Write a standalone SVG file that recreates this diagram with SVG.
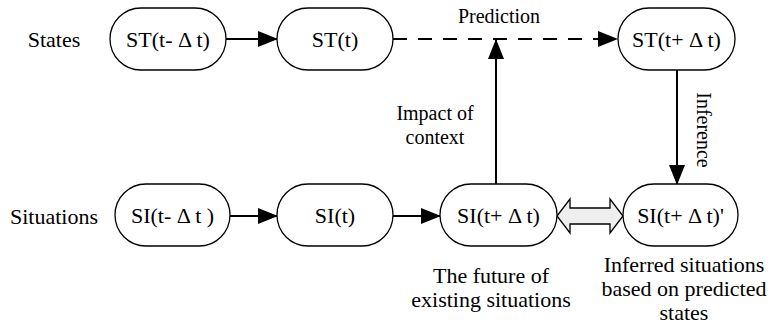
<svg xmlns="http://www.w3.org/2000/svg" width="771" height="327" viewBox="0 0 771 327" font-family="Liberation Serif, DejaVu Serif, serif">
  <style>
    .lbl { font-size: 22px; }
    .sm { font-size: 20px; }
    .node rect { fill: #fff; stroke: #000; stroke-width: 1.3; }
    .node text { font-size: 22px; text-anchor: middle; }
    .edge { fill: none; stroke: #000; stroke-width: 2; }
    .dash { stroke-dasharray: 14 11; }
  </style>
  <defs>
    <marker id="arrow" markerUnits="userSpaceOnUse" markerWidth="20" markerHeight="16" refX="19" refY="8" orient="auto">
      <path d="M0,0 L20,8 L0,16 z" fill="#000"/>
    </marker>
  </defs>

  <!-- row titles -->
  <text class="lbl" x="54" y="47" text-anchor="middle" font-family="Liberation Serif">States</text>
  <text class="lbl" x="54" y="224" text-anchor="middle" font-family="Liberation Serif">Situations</text>

  <!-- connectors -->
  <g id="connectors">
    <line class="edge" x1="226" y1="39" x2="277" y2="39" marker-end="url(#arrow)"/>
    <line class="edge dash" x1="393" y1="39" x2="617" y2="39" marker-end="url(#arrow)"/>
    <line class="edge" x1="230" y1="216" x2="277" y2="216" marker-end="url(#arrow)"/>
    <line class="edge" x1="393" y1="216" x2="440" y2="216" marker-end="url(#arrow)"/>
    <line class="edge" x1="496" y1="184" x2="496" y2="40" marker-end="url(#arrow)"/>
    <line class="edge" x1="677" y1="70" x2="677" y2="184" marker-end="url(#arrow)"/>
    <polygon points="557,216 570,199 570,208 610,208 610,199 623,216 610,233 610,224 570,224 570,233" fill="#eeeeee" stroke="#000" stroke-width="1.3"/>
    <text class="sm" x="499" y="23" text-anchor="middle">Prediction</text>
    <text class="sm" x="435" y="120" text-anchor="middle">Impact of</text>
    <text class="sm" x="435" y="144" text-anchor="middle">context</text>
    <text class="sm" transform="translate(697,130) rotate(90)" text-anchor="middle">Inference</text>
  </g>

  <!-- state nodes -->
  <g id="st-prev" class="node">
    <rect x="110" y="8" width="116" height="62" rx="31"/>
    <text x="168" y="47">ST(t- Δ t)</text>
  </g>
  <g id="st-now" class="node">
    <rect x="277" y="8" width="116" height="62" rx="31"/>
    <text x="335" y="47">ST(t)</text>
  </g>
  <g id="st-next" class="node">
    <rect x="618" y="8" width="117" height="62" rx="31"/>
    <text x="676.5" y="47">ST(t+ Δ t)</text>
  </g>

  <!-- situation nodes -->
  <g id="si-prev" class="node">
    <rect x="115" y="184" width="115" height="62" rx="31"/>
    <text x="172.5" y="223">SI(t- Δ t )</text>
  </g>
  <g id="si-now" class="node">
    <rect x="277" y="184" width="116" height="62" rx="31"/>
    <text x="335" y="223">SI(t)</text>
  </g>
  <g id="si-next" class="node">
    <rect x="440" y="184" width="117" height="62" rx="31"/>
    <text x="498.5" y="223">SI(t+ Δ t)</text>
  </g>
  <g id="si-inferred" class="node">
    <rect x="623" y="184" width="115" height="62" rx="31"/>
    <text x="680.5" y="223">SI(t+ Δ t)'</text>
  </g>

  <!-- captions -->
  <text class="lbl" x="491" y="283" text-anchor="middle">The future of</text>
  <text class="lbl" x="491" y="307" text-anchor="middle">existing situations</text>
  <text class="lbl" x="684" y="272" text-anchor="middle">Inferred situations</text>
  <text class="lbl" x="684" y="296" text-anchor="middle">based on predicted</text>
  <text class="lbl" x="684" y="320" text-anchor="middle">states</text>
</svg>
